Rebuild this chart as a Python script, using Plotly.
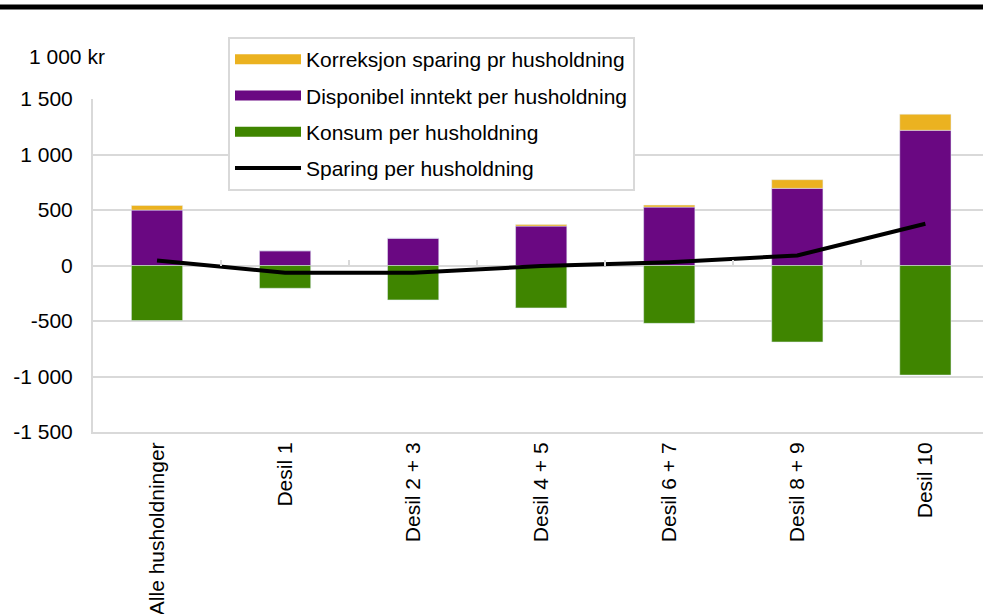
import plotly.graph_objects as go

categories = ["Alle husholdninger", "Desil 1", "Desil 2 + 3", "Desil 4 + 5",
              "Desil 6 + 7", "Desil 8 + 9", "Desil 10"]
korreksjon = [42, 0, 0, 15, 18, 78, 145]
disponibel = [499, 133, 246, 355, 526, 695, 1218]
konsum = [-496, -205, -310, -382, -521, -689, -987]
sparing = [45, -66, -66, -5, 30, 90, 376]

y_ticks = [-1500, -1000, -500, 0, 500, 1000, 1500]
y_labels = ["-1 500", "-1 000", "-500", "0", "500", "1 000", "1 500"]

names = {"korr": "Korreksjon sparing pr husholdning",
         "disp": "Disponibel inntekt per husholdning",
         "kons": "Konsum per husholdning",
         "spar": "Sparing per husholdning"}
colors = {"korr": "#ebb220", "disp": "#6a0882", "kons": "#3f8500", "spar": "black"}

font = "Liberation Sans, Arial, sans-serif"
grid = "#d9d9d9"

L, R, T, B = 93, 0, 99, 182
W, H = 983, 614
pw, ph = W - L - R, H - T - B

fig = go.Figure()
fig.add_trace(go.Bar(x=categories, y=disponibel, name=names["disp"],
                     marker_color=colors["disp"], showlegend=False))
fig.add_trace(go.Bar(x=categories, y=korreksjon, name=names["korr"],
                     marker_color=colors["korr"], showlegend=False))
fig.add_trace(go.Bar(x=categories, y=konsum, name=names["kons"],
                     marker_color=colors["kons"], showlegend=False))
fig.add_trace(go.Scatter(x=categories, y=sparing, name=names["spar"], mode="lines",
                         line=dict(color=colors["spar"], width=4), showlegend=False))

# legend entries drawn as wide swatches, like the original
for rank, key in enumerate(["korr", "disp", "kons", "spar"]):
    fig.add_trace(go.Scatter(x=[None], y=[None], mode="lines", name=names[key],
                             legendgroup=key, legendrank=rank,
                             line=dict(color=colors[key], width=4 if key == "spar" else 11)))

n = len(categories)
fig.update_layout(
    width=W, height=H,
    margin=dict(l=L, r=R, t=T, b=B),
    barmode="relative", bargap=0.6,
    plot_bgcolor="white", paper_bgcolor="white",
    font=dict(family=font, size=21, color="black"),
    xaxis=dict(range=[-0.5, n - 0.55], showgrid=False, showline=True, linecolor=grid,
               linewidth=2, tickangle=-90, ticks="", ticklabelstandoff=0),
    xaxis2=dict(overlaying="x", anchor="free", position=0.5, range=[-0.5, n - 0.55],
                tickvals=[i + 0.5 for i in range(n - 1)], showticklabels=False,
                ticks="inside", ticklen=6, tickwidth=2, tickcolor=grid, showgrid=False,
                showline=False, zeroline=False),
    yaxis=dict(range=[-1500, 1500], tickvals=y_ticks, ticktext=y_labels, showgrid=True,
               gridcolor=grid, gridwidth=2, zeroline=False, showline=True, linecolor=grid,
               linewidth=2, ticks="", ticklabelstandoff=14),
    legend=dict(x=(228 - L) / pw, y=1 + (T - 37) / ph, xanchor="left", yanchor="top",
                bgcolor="white", bordercolor=grid, borderwidth=2, itemwidth=66,
                traceorder="grouped", tracegroupgap=6),
    showlegend=True,
    annotations=[dict(text="1 000 kr", xref="paper", yref="paper", x=(27 - L) / pw,
                      y=1 + (T - 57) / ph, xanchor="left", yanchor="middle",
                      showarrow=False)],
    shapes=[dict(type="line", xref="paper", yref="paper", x0=-L / pw, x1=1,
                 y0=1 + (T - 7) / ph, y1=1 + (T - 7) / ph,
                 line=dict(color="black", width=5))],
)
# empty trace so the boundary-tick axis is drawn
fig.add_trace(go.Scatter(x=[None], y=[None], xaxis="x2", showlegend=False, hoverinfo="skip"))

fig.write_html("out.html", config={"displayModeBar": False},
               post_script="document.body.style.margin='0';")
